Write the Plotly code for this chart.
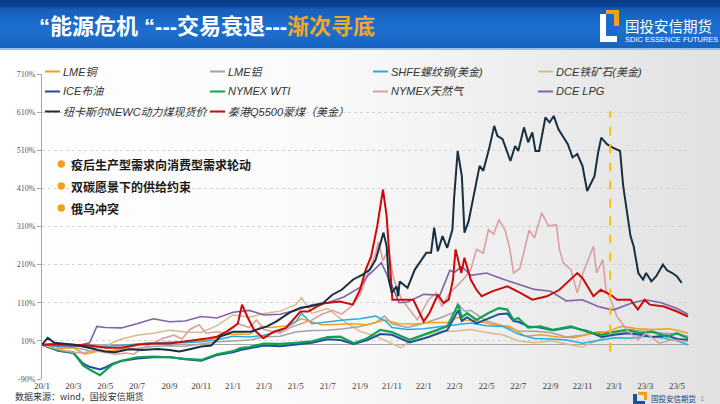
import base64
import plotly.graph_objects as go

# ---------------- data (% change since 2020-01) ----------------
tick_dates = ["2020-01-01", "2020-03-01", "2020-05-01", "2020-07-01", "2020-09-01", "2020-11-01",
              "2021-01-01", "2021-03-01", "2021-05-01", "2021-07-01", "2021-09-01", "2021-11-01",
              "2022-01-01", "2022-03-01", "2022-05-01", "2022-07-01", "2022-09-01", "2022-11-01",
              "2023-01-01", "2023-03-01", "2023-05-01"]
tick_labels = ["20/1", "20/3", "20/5", "20/7", "20/9", "20/11", "21/1", "21/3", "21/5", "21/7", "21/9",
               "21/11", "22/1", "22/3", "22/5", "22/7", "22/9", "22/11", "23/1", "23/3", "23/5"]
y_ticks = [-90, 10, 110, 210, 310, 410, 510, 610, 710]

series_names = ["LME铜", "LME铝", "SHFE螺纹钢(美金)", "DCE铁矿石(美金)",
                "ICE布油", "NYMEX WTI", "NYMEX天然气", "DCE LPG",
                "纽卡斯尔NEWC动力煤现货价", "秦港Q5500蒙煤（美金）"]
series_colors = ["#F2A01E", "#A3A3A3", "#22AEE3", "#D8BA8C",
                 "#1F4E9E", "#0FA34F", "#D9A0A0", "#8064A8",
                 "#18303F", "#CC0A0A"]

copper_dates = ["20-01-01", "20-01-20", "20-02-03", "20-03-01", "20-03-23", "20-04-15", "20-05-15", "20-06-15",
                "20-07-15", "20-08-15", "20-09-15", "20-10-15", "20-11-15", "20-12-15", "21-01-15", "21-02-01",
                "21-02-25", "21-03-15", "21-04-15", "21-05-12", "21-06-01", "21-06-20", "21-07-15", "21-08-15",
                "21-09-15", "21-10-18", "21-11-15", "21-12-15", "22-01-15", "22-02-15", "22-03-07", "22-03-20",
                "22-04-15", "22-05-15", "22-06-15", "22-07-15", "22-08-15", "22-09-15", "22-10-15", "22-11-15",
                "22-12-15", "23-01-15", "23-02-15", "23-03-15", "23-04-15", "23-05-01", "23-05-22"]
copper_values = [0, 3, -10, -8, -25, -18, -15, -7, 3, 6, 8, 8, 12, 26, 28, 27,
                 48, 45, 50, 68, 60, 52, 53, 55, 52, 65, 55, 54, 58, 58, 72, 65,
                 62, 52, 48, 22, 26, 20, 18, 28, 33, 48, 42, 40, 42, 38, 30]

alu_dates = ["20-01-01", "20-02-01", "20-03-01", "20-04-01", "20-05-01", "20-06-01", "20-07-01", "20-08-01",
             "20-09-01", "20-10-01", "20-11-01", "20-12-01", "21-01-01", "21-02-01", "21-03-01", "21-04-01",
             "21-05-01", "21-06-01", "21-07-01", "21-08-01", "21-09-01", "21-10-01", "21-10-18", "21-11-01",
             "21-12-01", "22-01-01", "22-02-01", "22-03-01", "22-03-07", "22-03-20", "22-04-01", "22-05-01",
             "22-06-01", "22-07-01", "22-08-01", "22-09-01", "22-10-01", "22-11-01", "22-12-01", "23-01-01",
             "23-02-01", "23-03-01", "23-04-01", "23-05-01", "23-05-22"]
alu_values = [0, -5, -7, -16, -18, -14, -10, -5, -3, -4, 2, 8, 10, 12, 20, 22,
              33, 37, 38, 42, 48, 58, 75, 55, 45, 56, 70, 85, 108, 88, 90, 62,
              50, 36, 35, 32, 20, 25, 34, 32, 40, 33, 30, 28, 22]

rebar_dates = ["20-01-01", "20-02-01", "20-03-01", "20-04-01", "20-05-01", "20-06-01", "20-07-01", "20-08-01",
               "20-09-01", "20-10-01", "20-11-01", "20-12-01", "21-01-01", "21-02-01", "21-03-01", "21-04-01",
               "21-05-01", "21-05-12", "21-06-01", "21-07-01", "21-08-01", "21-09-01", "21-10-01", "21-10-20",
               "21-11-01", "21-12-01", "22-01-01", "22-02-01", "22-03-01", "22-04-01", "22-05-01", "22-06-01",
               "22-07-01", "22-08-01", "22-09-01", "22-10-01", "22-11-01", "22-12-01", "23-01-01", "23-02-01",
               "23-03-01", "23-04-01", "23-05-01", "23-05-22"]
rebar_values = [0, -5, -3, -6, -4, -2, 2, 5, 6, 5, 8, 13, 22, 20, 25, 35,
                60, 82, 55, 60, 65, 68, 75, 62, 45, 40, 42, 47, 52, 57, 50, 48,
                28, 16, 15, 12, 4, 10, 18, 17, 22, 18, 10, 0]

ore_dates = ["20-01-01", "20-02-01", "20-03-01", "20-04-01", "20-05-01", "20-06-01", "20-07-01", "20-08-01",
             "20-09-01", "20-10-01", "20-11-01", "20-12-01", "21-01-01", "21-02-01", "21-03-01", "21-04-01",
             "21-05-01", "21-05-12", "21-06-01", "21-07-01", "21-08-01", "21-09-01", "21-10-01", "21-11-01",
             "21-11-18", "21-12-01", "22-01-01", "22-02-01", "22-03-01", "22-04-01", "22-05-01", "22-06-01",
             "22-07-01", "22-08-01", "22-09-01", "22-10-01", "22-11-01", "22-12-01", "23-01-01", "23-02-01",
             "23-03-01", "23-04-01", "23-05-01", "23-05-22"]
ore_values = [0, -5, -2, -5, -3, 15, 25, 30, 38, 33, 32, 50, 78, 72, 82, 88,
              105, 123, 82, 95, 62, 35, 22, 2, -8, 5, 25, 35, 35, 40, 32, 26,
              10, 5, 10, 2, -6, 12, 30, 36, 39, 30, 15, 8]

brent_dates = ["20-01-01", "20-02-01", "20-03-01", "20-03-20", "20-04-01", "20-04-21", "20-05-01", "20-05-15",
               "20-06-01", "20-07-01", "20-08-01", "20-09-01", "20-10-01", "20-11-01", "20-12-01", "21-01-01",
               "21-01-15", "21-02-01", "21-03-01", "21-04-01", "21-05-01", "21-06-01", "21-07-01", "21-07-25",
               "21-08-20", "21-09-15", "21-10-10", "21-11-01", "21-12-05", "22-01-10", "22-02-15", "22-03-08",
               "22-03-15", "22-03-25", "22-04-12", "22-05-05", "22-05-25", "22-06-10", "22-06-22", "22-07-01",
               "22-07-12", "22-07-20", "22-08-12", "22-09-05", "22-10-10", "22-11-10", "22-12-08", "23-01-01",
               "23-01-25", "23-02-20", "23-03-15", "23-04-12", "23-05-01", "23-05-22"]
brent_values = [0, -16, -22, -50, -58, -65, -60, -50, -43, -36, -33, -32, -38, -42, -27, -20,
                -14, -10, -2, -4, 1, 5, 14, 12, 2, 12, 28, 26, 6, 20, 38, 90,
                62, 72, 56, 68, 80, 82, 62, 60, 52, 48, 45, 38, 46, 36, 20, 26,
                30, 26, 20, 24, 15, 12]

wti_dates = ["20-01-01", "20-02-01", "20-03-01", "20-03-20", "20-04-01", "20-04-21", "20-05-01", "20-05-15",
             "20-06-01", "20-07-01", "20-08-01", "20-09-01", "20-10-01", "20-11-01", "20-12-01", "21-01-01",
             "21-01-15", "21-02-01", "21-03-01", "21-04-01", "21-05-01", "21-06-01", "21-07-01", "21-07-25",
             "21-08-20", "21-09-15", "21-10-10", "21-11-01", "21-12-05", "22-01-10", "22-02-15", "22-03-08",
             "22-03-15", "22-03-25", "22-04-12", "22-05-05", "22-05-25", "22-06-10", "22-06-22", "22-07-01",
             "22-07-12", "22-07-20", "22-08-12", "22-09-05", "22-10-10", "22-11-10", "22-12-08", "23-01-01",
             "23-01-25", "23-02-20", "23-03-15", "23-04-12", "23-05-01", "23-05-22"]
wti_values = [0, -15, -20, -55, -65, -80, -68, -52, -42, -33, -31, -33, -37, -40, -25, -17,
              -9, -6, 3, 2, 5, 9, 20, 21, 4, 17, 39, 33, 13, 30, 48, 105,
              72, 83, 65, 83, 96, 92, 65, 70, 57, 45, 48, 39, 48, 34, 26, 34,
              39, 30, 34, 21, 30, 17]

gas_dates = ["20-01-01", "20-01-20", "20-02-10", "20-03-01", "20-03-20", "20-04-10", "20-05-01", "20-05-20",
             "20-06-10", "20-06-25", "20-07-10", "20-08-01", "20-08-20", "20-09-10", "20-09-25", "20-10-10",
             "20-10-28", "20-11-10", "20-12-01", "20-12-20", "21-01-10", "21-02-01", "21-02-15", "21-03-01",
             "21-04-01", "21-04-20", "21-05-10", "21-06-01", "21-06-20", "21-07-10", "21-07-28", "21-08-15",
             "21-09-01", "21-09-15", "21-10-01", "21-10-06", "21-10-15", "21-10-25", "21-11-05", "21-11-20",
             "21-12-05", "21-12-20", "22-01-10", "22-01-25", "22-02-05", "22-02-20", "22-03-05", "22-03-20",
             "22-04-01", "22-04-12", "22-04-25", "22-05-05", "22-05-15", "22-05-25", "22-06-06", "22-06-15",
             "22-06-22", "22-07-04", "22-07-22", "22-08-01", "22-08-15", "22-08-28", "22-09-12", "22-09-18",
             "22-09-25", "22-10-10", "22-10-22", "22-11-02", "22-11-22", "22-11-28", "22-12-10", "22-12-16",
             "22-12-25", "23-01-06", "23-01-25", "23-02-15", "23-03-03", "23-03-28", "23-04-22", "23-05-22"]
gas_values = [0, -8, -15, -20, -22, -15, -20, -25, -22, -25, -10, 5, 17, 25, 15, 40,
              52, 30, 34, 30, 55, 45, 65, 40, 30, 45, 55, 65, 80, 90, 80, 100,
              131, 180, 240, 270, 220, 250, 170, 118, 90, 65, 118, 136, 100, 136, 153, 175,
              197, 250, 240, 302, 290, 328, 300, 250, 188, 200, 300, 280, 346, 311, 315, 250,
              215, 197, 136, 188, 258, 188, 223, 144, 118, 74, 39, 13, 30, 4, 13, 8]

lpg_dates = ["20-01-01", "20-02-01", "20-03-01", "20-04-01", "20-04-15", "20-05-01", "20-06-01", "20-07-01",
             "20-08-01", "20-09-01", "20-10-01", "20-11-01", "20-12-01", "21-01-01", "21-02-01", "21-03-01",
             "21-04-01", "21-05-01", "21-06-01", "21-07-01", "21-08-01", "21-09-01", "21-09-15", "21-10-01",
             "21-10-12", "21-11-01", "21-11-15", "21-12-01", "22-01-01", "22-02-01", "22-02-20", "22-03-01",
             "22-03-15", "22-04-01", "22-05-01", "22-06-01", "22-07-01", "22-08-01", "22-09-01", "22-10-01",
             "22-11-01", "22-12-01", "22-12-25", "23-01-01", "23-02-01", "23-03-01", "23-04-01", "23-05-01",
             "23-05-22"]
lpg_values = [0, -3, -5, 5, 48, 45, 44, 55, 68, 60, 62, 74, 70, 85, 90, 78,
              80, 90, 105, 110, 125, 150, 180, 200, 215, 155, 110, 112, 132, 130, 195, 190,
              205, 182, 188, 172, 158, 145, 140, 115, 118, 100, 92, 92, 108, 118, 110, 95,
              80]

newc_dates = ["20-01-01", "20-01-12", "20-01-25", "20-02-15", "20-03-01", "20-03-20", "20-04-10", "20-05-01",
              "20-05-20", "20-06-15", "20-07-10", "20-08-10", "20-09-01", "20-09-20", "20-10-10", "20-11-01",
              "20-11-20", "20-12-07", "21-01-01", "21-02-03", "21-03-07", "21-03-25", "21-04-19", "21-05-10",
              "21-05-28", "21-06-22", "21-07-10", "21-07-28", "21-08-19", "21-09-06", "21-09-20", "21-10-01",
              "21-10-16", "21-10-22", "21-10-26", "21-11-01", "21-11-10", "21-11-13", "21-11-16", "21-12-01",
              "21-12-15", "22-01-06", "22-01-15", "22-01-21", "22-01-28", "22-02-06", "22-02-15", "22-02-25",
              "22-02-28", "22-03-07", "22-03-15", "22-03-20", "22-03-28", "22-04-10", "22-04-18", "22-04-25",
              "22-05-06", "22-05-16", "22-05-22", "22-06-01", "22-06-16", "22-06-25", "22-07-01", "22-07-12",
              "22-07-20", "22-07-28", "22-08-03", "22-08-10", "22-08-22", "22-08-30", "22-09-07", "22-09-16",
              "22-10-04", "22-10-13", "22-10-22", "22-11-01", "22-11-10", "22-11-24", "22-12-01", "22-12-07",
              "22-12-18", "22-12-29", "23-01-12", "23-01-18", "23-02-01", "23-02-07", "23-02-16", "23-02-25",
              "23-03-03", "23-03-13", "23-03-22", "23-04-04", "23-04-12", "23-04-22", "23-05-01", "23-05-10"]
newc_values = [0, 18, 5, 2, 0, -5, -12, -18, -20, -12, -14, -11, -14, -18, -12, -5,
               -2, 21, 34, 34, 48, 61, 84, 97, 100, 109, 131, 144, 171, 184, 197, 223,
               294, 258, 171, 136, 153, 127, 166, 149, 197, 241, 241, 307, 245, 285, 254, 302,
               381, 508, 442, 294, 324, 416, 469, 456, 513, 574, 548, 539, 482, 521, 508, 570,
               531, 557, 508, 508, 596, 583, 600, 565, 526, 491, 500, 469, 403, 442, 504, 543,
               526, 517, 508, 416, 285, 258, 188, 171, 188, 166, 179, 210, 195, 188, 179, 162]

qhd_dates = ["20-01-01", "20-02-01", "20-03-01", "20-04-01", "20-05-01", "20-06-01", "20-07-01", "20-08-01",
             "20-09-01", "20-10-01", "20-10-20", "20-11-15", "20-12-01", "20-12-20", "21-01-10", "21-01-18",
             "21-01-28", "21-02-10", "21-02-28", "21-03-20", "21-04-12", "21-05-10", "21-05-25", "21-06-10",
             "21-06-25", "21-07-25", "21-08-18", "21-09-01", "21-09-12", "21-09-22", "21-10-04", "21-10-15",
             "21-10-22", "21-10-28", "21-11-02", "21-12-12", "21-12-25", "22-01-01", "22-01-12", "22-01-28",
             "22-02-08", "22-02-18", "22-02-26", "22-03-03", "22-03-14", "22-03-20", "22-04-01", "22-04-12",
             "22-04-22", "22-05-12", "22-06-10", "22-07-05", "22-07-28", "22-08-25", "22-09-18", "22-10-22",
             "22-11-01", "22-11-22", "22-12-06", "22-12-25", "23-01-06", "23-02-01", "23-02-15", "23-02-28",
             "23-03-10", "23-04-06", "23-05-01", "23-05-22"]
qhd_values = [0, 2, 0, -2, -8, -8, 0, 3, 3, 8, 13, 17, 21, 35, 55, 105,
              74, 39, 17, 34, 44, 87, 87, 100, 109, 113, 105, 144, 197, 230, 311, 407,
              337, 206, 118, 118, 83, 61, 83, 131, 109, 118, 171, 250, 188, 228, 171, 144,
              127, 140, 153, 136, 118, 127, 144, 188, 175, 127, 144, 131, 118, 118, 92, 118,
              105, 100, 87, 74]

marker_date = "2022-12-24"
marker_range = [-18, 612]

source_text = "数据来源：wind，国投安信期货"
bullets = ["疫后生产型需求向消费型需求轮动", "双碳愿景下的供给约束", "俄乌冲突"]

# ---------------- figure ----------------
all_dates = [copper_dates, alu_dates, rebar_dates, ore_dates, brent_dates, wti_dates,
             gas_dates, lpg_dates, newc_dates, qhd_dates]
all_values = [copper_values, alu_values, rebar_values, ore_values, brent_values, wti_values,
              gas_values, lpg_values, newc_values, qhd_values]
widths = [1.5, 1.5, 1.5, 1.5, 2, 2.2, 1.6, 1.6, 2, 2]
draw_order = [3, 1, 0, 2, 4, 5, 6, 7, 9, 8]

fig = go.Figure()
for i in draw_order:
    fig.add_trace(go.Scatter(
        x=["20" + d for d in all_dates[i]], y=all_values[i], mode="lines",
        name=series_names[i], line=dict(color=series_colors[i], width=widths[i]),
        showlegend=False))

L, R, T, B = 42, 689, 74, 379
W, H = R - L, B - T


def px(x):
    return (x - L) / W


def py(y):
    return (B - y) / H


# background picture (gradient slide + title bar + logo marks)
svg = f'''<svg xmlns="http://www.w3.org/2000/svg" width="720" height="404" viewBox="0 0 720 404" preserveAspectRatio="none">
<defs>
<linearGradient id="bg" x1="0" y1="0" x2="1" y2="0">
<stop offset="0" stop-color="#ffffff"/><stop offset="0.45" stop-color="#fafafa"/><stop offset="1" stop-color="#e1e1e1"/></linearGradient>
<linearGradient id="bar" x1="0" y1="0" x2="0" y2="1">
<stop offset="0" stop-color="#093b86"/><stop offset="0.13" stop-color="#0b4394"/><stop offset="0.2" stop-color="#1660bd"/>
<stop offset="0.6" stop-color="#1d70d1"/><stop offset="1" stop-color="#1763c0"/></linearGradient>
</defs>
<rect width="720" height="404" fill="url(#bg)"/>
<rect width="720" height="48" fill="url(#bar)"/>
<rect y="48" width="720" height="2" fill="#9dbde3"/>
<rect x="600" y="14" width="17" height="28" fill="#ffffff"/>
<rect x="606" y="14" width="11" height="22" fill="#1a6acb"/>
<rect x="606" y="10" width="13" height="4" fill="#f5a01a"/>
<rect x="614" y="10" width="5" height="16" fill="#f5a01a"/>
<rect x="633" y="394" width="4" height="10" fill="#1d4f9c"/>
<rect x="633" y="401" width="12" height="3" fill="#1d4f9c"/>
<rect x="638" y="392" width="9" height="3" fill="#f5a01a"/>
<rect x="644" y="392" width="3" height="8" fill="#f5a01a"/>
</svg>'''
fig.add_layout_image(dict(
    source="data:image/svg+xml;base64," + base64.b64encode(svg.encode()).decode(),
    xref="paper", yref="paper", x=px(0), y=py(0), sizex=720 / W, sizey=404 / H,
    xanchor="left", yanchor="top", sizing="stretch", layer="below"))

# dashed marker line
fig.add_shape(type="line", xref="x", yref="y", x0=marker_date, x1=marker_date,
              y0=marker_range[0], y1=marker_range[1],
              line=dict(color="#FFC000", width=2, dash="dash"))

# manual legend
col_x = [45, 210, 373, 538]
row_y = [71.5, 91.5, 111.5]
for k, name in enumerate(series_names):
    r, c = divmod(k, 4)
    x0, y0 = col_x[c], row_y[r]
    fig.add_shape(type="line", xref="paper", yref="paper", x0=px(x0), x1=px(x0 + 15),
                  y0=py(y0), y1=py(y0), line=dict(color=series_colors[k], width=2))
    fig.add_annotation(xref="paper", yref="paper", x=px(x0 + 16), y=py(y0), text=name,
                       showarrow=False, xanchor="left", yanchor="middle",
                       font=dict(family="Liberation Sans, Noto Sans CJK SC", size=11,
                                 color="#333333", style="italic"))

# bullet list
for k, b in enumerate(bullets):
    yy = 164 + 22 * k
    fig.add_shape(type="circle", xref="paper", yref="paper", x0=px(57.5), x1=px(65),
                  y0=py(yy - 3.7), y1=py(yy + 3.7), fillcolor="#F5A01A", line=dict(width=0))
    fig.add_annotation(xref="paper", yref="paper", x=px(69), y=py(yy), text="<b>" + b + "</b>",
                       showarrow=False, xanchor="left", yanchor="middle",
                       font=dict(family="Noto Sans CJK SC", size=12, color="#1a1a1a"))

# title
fig.add_annotation(xref="paper", yref="paper", x=px(37), y=py(27),
                   text="<b>“能源危机 “---交易衰退---<span style='color:#F5A623'>渐次寻底</span></b>",
                   showarrow=False, xanchor="left", yanchor="middle",
                   font=dict(family="Liberation Sans, Noto Sans CJK SC", size=22, color="#ffffff"))
fig.add_annotation(xref="paper", yref="paper", x=px(623), y=py(25), text="国投安信期货",
                   showarrow=False, xanchor="left", yanchor="middle",
                   font=dict(family="Noto Sans CJK SC", size=14.5, color="#ffffff"))
fig.add_annotation(xref="paper", yref="paper", x=px(623), y=py(39.5), text="SDIC ESSENCE FUTURES",
                   showarrow=False, xanchor="left", yanchor="middle",
                   font=dict(family="Liberation Sans Narrow, Liberation Sans", size=7.5, color="#ffffff"))

# footer
fig.add_annotation(xref="paper", yref="paper", x=px(14), y=py(404), text=source_text,
                   showarrow=False, xanchor="left", yanchor="bottom", borderpad=0,
                   font=dict(family="Noto Sans CJK SC", size=9, color="#333333"))
fig.add_annotation(xref="paper", yref="paper", x=px(649), y=py(398), text="国投安信期货",
                   showarrow=False, xanchor="left", yanchor="middle",
                   font=dict(family="Noto Sans CJK SC", size=7.5, color="#1d3f7c"))
fig.add_annotation(xref="paper", yref="paper", x=px(698), y=py(398), text="1",
                   showarrow=False, xanchor="left", yanchor="middle",
                   font=dict(family="Liberation Sans", size=8, color="#9a9a9a"))

fig.update_layout(
    width=720, height=404,
    margin=dict(l=L, r=720 - R, t=T, b=404 - B, pad=0),
    paper_bgcolor="rgba(0,0,0,0)", plot_bgcolor="rgba(0,0,0,0)",
    showlegend=False,
    xaxis=dict(type="date", range=["2020-01-01", "2023-05-24"], tickvals=tick_dates,
               ticktext=tick_labels, showgrid=False, showline=False, zeroline=False, ticks="",
               tickfont=dict(family="Liberation Serif", size=9, color="#404040")),
    yaxis=dict(range=[-90, 710], tickvals=y_ticks, ticktext=[f"{v}%" for v in y_ticks],
               showgrid=True, gridcolor="#D4D4D4", griddash="dot", gridwidth=1,
               zeroline=True, zerolinecolor="#A6A6A6", zerolinewidth=1,
               showline=True, linecolor="#A6A6A6", linewidth=1,
               ticks="outside", ticklen=4, tickcolor="#A6A6A6",
               tickfont=dict(family="Liberation Serif", size=8, color="#555555")),
)

fig.write_html("out.html", config={"displayModeBar": False},
               post_script="document.body.style.margin='0';document.body.style.padding='0';"
                           "document.body.style.overflow='hidden';")
